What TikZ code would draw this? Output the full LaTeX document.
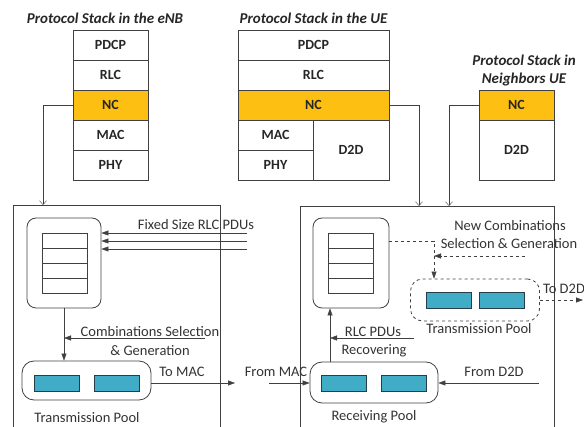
\documentclass[tikz,border=0pt]{standalone}
\usepackage{fontspec}
\setmainfont{Carlito}
\usetikzlibrary{arrows.meta}
\definecolor{linie}{RGB}{64,64,64}
\definecolor{ncgelb}{RGB}{252,191,18}
\definecolor{zelle}{RGB}{65,172,198}
\definecolor{zellrand}{RGB}{38,62,74}

\begin{document}
\begin{tikzpicture}[x=1pt,y=-1pt,linie,font=\fontsize{14.5}{16}\selectfont,
    layer/.style={draw, line width=0.8pt, minimum width=75pt, minimum height=30pt, inner sep=0pt, font=\fontsize{14}{16}\selectfont\bfseries, text=black!85},
    nclayer/.style={layer, fill=ncgelb},
    titel/.style={font=\fontsize{15}{18}\selectfont\bfseries\itshape, text=black!85, align=center},
    puffer/.style={draw, line width=0.8pt, rounded corners=9pt, minimum width=74pt, minimum height=90pt},
    reihe/.style={draw, line width=0.8pt, minimum width=45pt, minimum height=15pt, inner sep=0pt},
    pool/.style={draw, line width=0.8pt, rounded corners=12pt, minimum width=129pt, minimum height=39pt},
    zellbox/.style={draw=zellrand, fill=zelle, line width=0.8pt, minimum width=45pt, minimum height=16pt, inner sep=0pt},
    lbl/.style={text=black!80, inner sep=0pt},
    spitze/.style={-{Triangle[length=7pt,width=5pt]}},
    offen/.style={-{Straight Barb[length=4pt,width=7pt]}}]

    \useasboundingbox (0,0) rectangle (584,427);

    % stacks
    \node[titel] (teNB) at (105,18) {Protocol Stack in the eNB};
    \node[layer] (ePDCP) at (110.5,45) {PDCP};
    \node[layer] (eRLC) at (110.5,75) {RLC};
    \node[nclayer] (eNC) at (110.5,105) {NC};
    \node[layer] (eMAC) at (110.5,135) {MAC};
    \node[layer] (ePHY) at (110.5,165) {PHY};

    \node[titel] (tUE) at (313.5,18) {Protocol Stack in the UE};
    \node[layer, minimum width=151pt] (uPDCP) at (313.5,45) {PDCP};
    \node[layer, minimum width=151pt] (uRLC) at (313.5,75) {RLC};
    \node[nclayer, minimum width=151pt] (uNC) at (313.5,105) {NC};
    \node[layer] (uMAC) at (275.5,135) {MAC};
    \node[layer] (uPHY) at (275.5,165) {PHY};
    \node[layer, minimum width=76pt, minimum height=60pt] (uD2D) at (351,150) {D2D};

    \node[titel] (tNb) at (524,71) {Protocol Stack in\\Neighbors UE};
    \node[nclayer] (nNC) at (516.5,105) {NC};
    \node[layer, minimum height=60pt] (nD2D) at (516.5,150) {D2D};

    % outer boxes
    \draw[line width=0.8pt] (13,430) |- (220,205) -- (220,430);
    \draw[line width=0.8pt] (300,430) |- (554,206) -- (554,430);

    \coordinate (eIn) at (43,205);
    \coordinate (uIn) at (419,206);
    \coordinate (nIn) at (449,206);
    \draw[offen] (eNC.west) -| (eIn);
    \draw[offen] (uNC.east) -| (uIn);
    \draw[offen] (nNC.west) -| (nIn);

    % eNB side
    \node[puffer] (lbuf) at (64,263) {};
    \foreach \i in {1,...,4}
        \node[reihe] (lr\i) at (64.5,225.5+15*\i) {};

    \foreach \i/\y in {1/233, 2/241, 3/249}{
        \coordinate (pdu\i) at (247,\y);
        \draw[spitze] (pdu\i) -- (lbuf.east |- pdu\i);
    }
    \node[lbl] (lfix) at (196,225) {Fixed Size RLC PDUs};

    \node[pool] (lpool) at (86.5,380.5) {};
    \node[zellbox] (lz1) at (56.5,383) {};
    \node[zellbox] (lz2) at (117,383) {};
    \node[lbl] (ltp) at (87,418) {Transmission Pool};

    \draw[spitze] (lbuf.south) -- (lpool.north -| lbuf.south);
    \coordinate (lsel) at (205,338);
    \draw[spitze] (lsel) -- (lbuf.south |- lsel);
    \node[lbl] (lcs) at (150,332) {Combinations Selection};
    \node[lbl] (lgen) at (150,351) {\& Generation};

    \coordinate (toMAC) at (235,383);
    \draw[spitze] (lpool.east |- toMAC) -- (toMAC);
    \node[lbl] (ltm) at (182,372) {To MAC};

    % UE side
    \node[puffer, minimum width=76pt] (rbuf) at (351,263) {};
    \foreach \i in {1,...,4}
        \node[reihe] (rr\i) at (351,225.5+15*\i) {};

    \node[pool, dashed, minimum height=42pt] (tpool) at (475,300) {};
    \node[zellbox] (tz1) at (449,300.5) {};
    \node[zellbox] (tz2) at (501.5,300.5) {};
    \node[lbl] (rtp) at (479,329) {Transmission Pool};

    \coordinate (knick) at (434,241);
    \draw[dashed, spitze] (rbuf.east |- knick) -- (knick) -- (tpool.north -| knick);
    \coordinate (nsel) at (525,256);
    \draw[dashed, spitze] (nsel) -- (knick |- nsel);
    \node[lbl] (rnc) at (510,226) {New Combinations};
    \node[lbl] (rsg) at (509,244) {Selection \& Generation};

    \coordinate (toD2D) at (583,300);
    \draw[dashed, spitze] (tpool.east |- toD2D) -- (toD2D);
    \node[lbl] (rtd) at (564,289) {To D2D};

    \node[pool, minimum width=128pt, minimum height=41pt] (rpool) at (374,382.5) {};
    \node[zellbox] (rz1) at (344,383) {};
    \node[zellbox] (rz2) at (404,383) {};
    \node[lbl] (rrp) at (374,417) {Receiving Pool};

    \coordinate (hoch) at (330,362);
    \draw[spitze] (hoch) -- (rbuf.south -| hoch);
    \coordinate (rec) at (414,338);
    \draw[spitze] (rec) -- (hoch |- rec);
    \node[lbl] (rpdu) at (373,332) {RLC PDUs};
    \node[lbl] (rrec) at (374,351) {Recovering};

    \coordinate (fromMAC) at (269,383);
    \draw[spitze] (fromMAC) -- (rpool.west |- fromMAC);
    \node[lbl] (rfm) at (276,372) {From MAC};

    \coordinate (fromD2D) at (539,383);
    \draw[spitze] (fromD2D) -- (rpool.east |- fromD2D);
    \node[lbl] (rfd) at (494,372) {From D2D};

\end{tikzpicture}
\end{document}
